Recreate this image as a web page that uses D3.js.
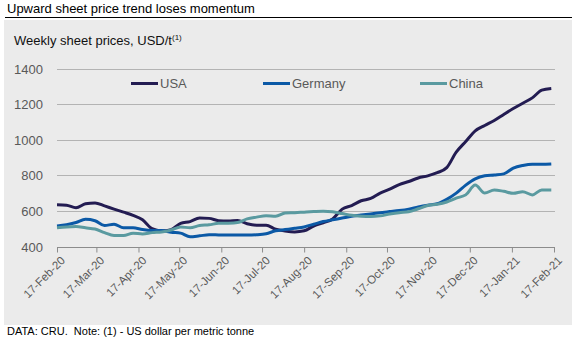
<!DOCTYPE html>
<html>
<head>
<meta charset="utf-8">
<script src="https://cdn.jsdelivr.net/npm/d3@7.9.0/dist/d3.min.js"></script>
<style>
  body { margin: 0; background: #fff; font-family: "Liberation Sans", Arial, sans-serif; }
</style>
</head>
<body>
<svg id="chart" width="572" height="342"></svg>
<script>
// weekly observations from 17-Feb-20
const startDate = new Date(2020, 1, 17);
const usa = [635, 632, 618, 640, 645, 628, 610, 593, 575, 550, 500, 487, 495, 530, 540, 560, 558, 545,
  543, 546, 528, 520, 520, 497, 487, 482, 488, 515, 533, 555, 610, 630, 657, 670, 700, 722, 748, 765,
  785, 797, 815, 843, 930, 990, 1050, 1080, 1108, 1142, 1175, 1205, 1235, 1278, 1288];
const germany = [515, 522, 535, 553, 545, 518, 525, 505, 505, 495, 490, 490, 480, 475, 455, 460, 466, 465,
  464, 464, 464, 466, 472, 488, 495, 502, 510, 525, 540, 550, 560, 570, 577, 583, 590, 596, 602, 610,
  622, 632, 640, 665, 700, 745, 780, 797, 802, 808, 840, 855, 862, 862, 864];
const china = [505, 510, 512, 505, 498, 478, 462, 462, 475, 470, 478, 482, 493, 510, 505, 518, 522, 530,
  531, 535, 555, 565, 573, 570, 588, 590, 593, 596, 598, 595, 585, 575, 570, 568, 572, 582, 590, 595,
  612, 630, 637, 650, 672, 690, 745, 700, 718, 710, 699, 708, 690, 718, 718];
const yTicks = [400, 600, 800, 1000, 1200, 1400];
const monthLabels = ["17-Feb-20", "17-Mar-20", "17-Apr-20", "17-May-20", "17-Jun-20", "17-Jul-20",
  "17-Aug-20", "17-Sep-20", "17-Oct-20", "17-Nov-20", "17-Dec-20", "17-Jan-21", "17-Feb-21"];

const seriesList = [
  { name: "USA", values: usa, color: "#231c52", legendX: 131 },
  { name: "Germany", values: germany, color: "#0b59a6", legendX: 263 },
  { name: "China", values: china, color: "#5a9aa0", legendX: 420 }
];

const svg = d3.select("#chart");

// title with rule underneath
svg.append("text")
  .attr("x", 7).attr("y", 13)
  .style("font-size", "13px").style("fill", "#000")
  .text("Upward sheet price trend loses momentum");
svg.append("line")
  .attr("x1", 5).attr("x2", 572).attr("y1", 17.5).attr("y2", 17.5)
  .style("stroke", "#000").style("stroke-width", 1);

// grey panel
svg.append("rect")
  .attr("x", 4).attr("y", 20).attr("width", 568).attr("height", 305)
  .style("fill", "#ebebeb");

svg.append("text")
  .attr("x", 14).attr("y", 45)
  .style("font-size", "13px").style("fill", "#111")
  .text("Weekly sheet prices, USD/t")
  .append("tspan")
  .attr("dy", -5)
  .style("font-size", "8px")
  .text("(1)");

const parseLabel = d3.timeParse("%d-%b-%y");
const x = d3.scaleTime()
  .domain([startDate, new Date(2021, 1, 17)])
  .range([57, 554]);
const y = d3.scaleLinear()
  .domain([400, 1400])
  .range([246.5, 68.5]);

// horizontal gridlines
svg.append("g")
  .selectAll("line")
  .data(yTicks.slice(1))
  .enter().append("line")
  .attr("x1", 57).attr("x2", 555)
  .attr("y1", d => Math.round(y(d)) + 0.5).attr("y2", d => Math.round(y(d)) + 0.5)
  .style("stroke", "#b3b3b3").style("stroke-width", 1);

// y labels
svg.append("g")
  .selectAll("text")
  .data(yTicks)
  .enter().append("text")
  .attr("x", 43).attr("y", d => y(d) + 5)
  .attr("text-anchor", "end")
  .style("font-size", "13px").style("fill", "#595959")
  .text(d => d);

// x axis
const tickDates = monthLabels.map(parseLabel);
const xAxis = svg.append("g")
  .attr("transform", `translate(0,${Math.round(y(400)) + 0.5})`)
  .call(d3.axisBottom(x).tickValues(tickDates).tickSize(5).tickSizeOuter(0).tickFormat(""));
xAxis.select(".domain").attr("d", `M57,0H555`).style("stroke", "#8c8c8c");
xAxis.selectAll(".tick line").style("stroke", "#8c8c8c");

svg.append("g")
  .selectAll("text")
  .data(tickDates)
  .enter().append("text")
  .attr("transform", d => `translate(${x(d) + 3},${y(400) + 9}) rotate(-45)`)
  .attr("text-anchor", "end")
  .attr("dy", "0.7em")
  .style("font-size", "11.5px").style("fill", "#595959")
  .text(d => d3.timeFormat("%d-%b-%y")(d));

// series lines
const line = d3.line()
  .x((d, i) => x(d3.timeDay.offset(startDate, i * 7)))
  .y(d => y(d))
  .curve(d3.curveMonotoneX);

seriesList.forEach(s => {
  svg.append("path")
    .datum(s.values)
    .attr("d", line)
    .style("fill", "none")
    .style("stroke", s.color)
    .style("stroke-width", 3)
    .style("stroke-linejoin", "round");
});

// legend
const legend = svg.append("g");
seriesList.forEach(s => {
  legend.append("line")
    .attr("x1", s.legendX).attr("x2", s.legendX + 27)
    .attr("y1", 83.5).attr("y2", 83.5)
    .style("stroke", s.color).style("stroke-width", 3);
  legend.append("text")
    .attr("x", s.legendX + 29).attr("y", 88)
    .style("font-size", "13px").style("fill", "#595959")
    .text(s.name);
});

svg.append("text")
  .attr("x", 7).attr("y", 335)
  .style("font-size", "11px").style("fill", "#000")
  .style("white-space", "pre")
  .text("DATA: CRU.  Note: (1) - US dollar per metric tonne");
</script>
</body>
</html>
